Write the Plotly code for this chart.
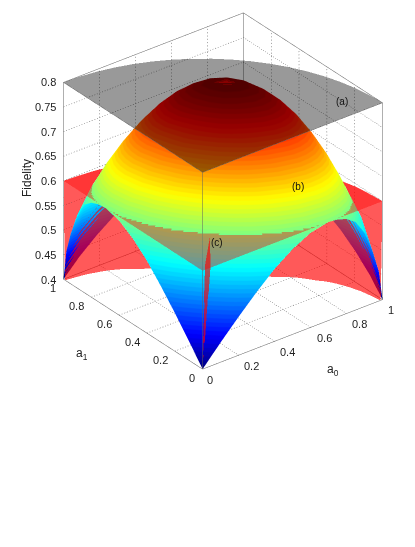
import numpy as np
import plotly.graph_objects as go

# Polar sample grid of the quarter-disc domain a0^2 + a1^2 <= 1
dome_radius = [0, .1, .2, .3, .4, .5, .6, .7, .75, .8, .85, .9, .95, .98, .99, 1]
dome_angle = list(range(0, 95, 5))

# Surface (b) read per angle column 0..45 (the surface is symmetric about 45 deg)
dome_t0 = [.4, .440, .478, .514, .547, .573, .592, .600, .598, .592, .579, .55, .50, .46, .43, .4]
dome_t5 = [.4, .443, .486, .527, .565, .596, .621, .634, .635, .630, .619, .598, .560, .518, .495, .435]
dome_t10 = [.4, .447, .494, .539, .581, .618, .647, .665, .668, .666, .657, .637, .599, .556, .532, .468]
dome_t15 = [.4, .450, .500, .549, .596, .637, .671, .694, .699, .699, .692, .673, .636, .592, .566, .5]
dome_t20 = [.4, .452, .506, .558, .609, .654, .692, .719, .727, .728, .723, .705, .668, .624, .598, .529]
dome_t25 = [.4, .454, .510, .566, .619, .669, .710, .741, .750, .753, .749, .733, .696, .651, .624, .553]
dome_t30 = [.4, .456, .514, .572, .628, .680, .725, .758, .769, .773, .770, .755, .718, .673, .646, .573]
dome_t35 = [.4, .457, .517, .576, .634, .688, .735, .770, .782, .788, .785, .771, .735, .689, .662, .588]
dome_t40 = [.4, .458, .518, .579, .638, .693, .741, .778, .790, .797, .795, .781, .745, .699, .672, .597]
dome_t45 = [.4, .458, .519, .580, .639, .695, .744, .781, .793, .800, .798, .784, .748, .702, .675, .600]

# Red outer sheet (c)
wall_radius = [.8, .85, .88, .91, .94, .96, .98, .99, 1]
wall_angle = [0, 10, 20, 30, 40, 45, 50, 60, 70, 80, 90]
wall_t0 = [.2, .2, .2, .2, .2, .2, .2, .4, .6]
wall_t10 = [.2, .2, .2, .2, .2, .32, .47, .53, .6]
wall_t20 = [.2, .2, .257, .343, .44, .5, .555, .58, .6]
wall_t30 = [.267, .35, .4, .45, .5, .533, .567, .583, .6]
wall_t40 = [.378, .433, .467, .5, .533, .556, .578, .589, .6]
wall_t45 = [.4, .45, .48, .51, .54, .56, .58, .59, .6]

# Red spike of sheet (c) near the origin
spike_radius = [0, .25]
spike_angle = [44, 45, 51]
spike_z = [[.4, .4, .4], [.54, .61, .54]]

# Constant levels
disc_radius = [0, 1]
disc_angle = [0, 5, 10, 15, 20, 25, 30, 35, 40, 45, 50, 55, 60, 65, 70, 75, 80, 85, 90]
level_a = [.8] * 19
level_red = [.6] * 19

a0_ticks = [0, .2, .4, .6, .8, 1]
a1_ticks = [0, .2, .4, .6, .8, 1]
a_labels = ['0', '0.2', '0.4', '0.6', '0.8', '1']
z_ticks = [.4, .45, .5, .55, .6, .65, .7, .75, .8]
z_labels = ['0.4', '0.45', '0.5', '0.55', '0.6', '0.65', '0.7', '0.75', '0.8']


def polar(radius, angle):
    r, t = np.meshgrid(radius, np.radians(angle), indexing='ij')
    return r * np.cos(t), r * np.sin(t)


def mirror(cols):
    return np.array(cols + cols[-2::-1]).T


def jet_scale(n=64):
    def f(v):
        return np.clip(1.5 - abs(4 * v - np.array([3, 2, 1])), 0, 1)
    stops = []
    for i in range(n):
        c = f((i + .5) / n)
        col = 'rgb(%d,%d,%d)' % tuple((c * 255).round())
        stops += [[i / n, col], [(i + 1) / n, col]]
    return stops


flat = dict(ambient=1, diffuse=0, specular=0, roughness=1, fresnel=0)
fig = go.Figure()

x, y = polar(dome_radius, dome_angle)
fig.add_surface(x=x, y=y, z=mirror([dome_t0, dome_t5, dome_t10, dome_t15, dome_t20, dome_t25,
                                    dome_t30, dome_t35, dome_t40, dome_t45]),
                colorscale=jet_scale(), cmin=.4, cmax=.8, showscale=False,
                lighting=flat, hoverinfo='skip')

x, y = polar(disc_radius, disc_angle)
fig.add_surface(x=x, y=y, z=[level_red, level_red], colorscale=[[0, '#ff0000'], [1, '#ff0000']],
                showscale=False, opacity=.4, lighting=flat, hoverinfo='skip')
fig.add_surface(x=x, y=y, z=[level_a, level_a], colorscale=[[0, '#000000'], [1, '#000000']],
                showscale=False, opacity=.4, lighting=flat, hoverinfo='skip')

x, y = polar(wall_radius, wall_angle)
fig.add_surface(x=x, y=y, z=mirror([wall_t0, wall_t10, wall_t20, wall_t30, wall_t40, wall_t45]),
                colorscale=[[0, '#ff0000'], [1, '#ff0000']],
                showscale=False, opacity=.65, lighting=flat, hoverinfo='skip')

x, y = polar(spike_radius, spike_angle)
fig.add_surface(x=x, y=y, z=spike_z, colorscale=[[0, '#ff0000'], [1, '#ff0000']],
                showscale=False, opacity=.65, lighting=flat, hoverinfo='skip')

# dotted grid, drawn as short dashes
gx, gy, gz = [], [], []


def dotted(p, q, n):
    for u in np.linspace(0, 1, n, endpoint=False):
        for w in (u, u + .35 / n):
            for store, a, b in ((gx, p[0], q[0]), (gy, p[1], q[1]), (gz, p[2], q[2])):
                store.append(a + (b - a) * w)
        gx.append(None)
        gy.append(None)
        gz.append(None)


for v in a0_ticks[1:-1]:
    dotted((v, 0, .4), (v, 1, .4), 70)
    dotted((v, 1, .4), (v, 1, .8), 60)
for v in a1_ticks[1:-1]:
    dotted((0, v, .4), (1, v, .4), 70)
    dotted((1, v, .4), (1, v, .8), 60)
for v in z_ticks[1:-1]:
    dotted((0, 1, v), (1, 1, v), 70)
    dotted((1, 1, v), (1, 0, v), 70)
fig.add_scatter3d(x=gx, y=gy, z=gz, mode='lines', line=dict(color='#555555', width=1),
                  hoverinfo='skip', showlegend=False)

# box edges
bx, by, bz = [], [], []
for zv in (.4, .8):
    bx += [0, 1, 1, 0, 0, None]
    by += [0, 0, 1, 1, 0, None]
    bz += [zv] * 5 + [None]
for cx, cy in ((0, 0), (1, 0), (1, 1), (0, 1)):
    bx += [cx, cx, None]
    by += [cy, cy, None]
    bz += [.4, .8, None]
fig.add_scatter3d(x=bx, y=by, z=bz, mode='lines', line=dict(color='#606060', width=1),
                  hoverinfo='skip', showlegend=False)

tick_font = dict(family='Liberation Sans, Arial', size=11, color='#222222')
notes = []
for v, t, sx in zip(a0_ticks, a_labels, [8, 13, 13, 14, 13, 9]):
    notes.append(dict(x=v, y=0, z=.4, text=t, showarrow=False, font=tick_font, xshift=sx, yshift=-10))
for v, t, sx in zip(a1_ticks, a_labels, [-10, -14, -14, -14, -14, -10]):
    notes.append(dict(x=0, y=v, z=.4, text=t, showarrow=False, font=tick_font, xshift=sx, yshift=-8))
for v, t in zip(z_ticks, z_labels):
    notes.append(dict(x=0, y=1, z=v, text=t, showarrow=False, font=tick_font, xanchor='right', xshift=-5))

axis = dict(showgrid=False, zeroline=False, showbackground=False, showspikes=False,
            showline=False, ticks='', showticklabels=False, title=dict(text=''))
el = np.radians(30)
th = np.radians(37.7)
d = 1.9
cube = 1.245
label_font = dict(size=10, family='Liberation Sans', color='#111111')
title_font = dict(size=12, family='Liberation Sans', color='#222222')


def note(px, py, text, font, **kw):
    # px, py are page pixels; the page body adds an 8 px margin
    return dict(x=(px - 8) / 415, y=1 - (py - 8) / 547, xref='paper', yref='paper', text=text, showarrow=False,
                font=font, xanchor='center', yanchor='middle', **kw)


fig.update_layout(
    width=415, height=547, margin=dict(l=0, r=0, t=0, b=0), paper_bgcolor='white',
    scene=dict(
        domain=dict(x=[.052, .982], y=[.33, 1]),
        aspectmode='manual', aspectratio=dict(x=cube, y=cube, z=cube),
        camera=dict(projection=dict(type='orthographic'), up=dict(x=0, y=0, z=1),
                    center=dict(x=0, y=0, z=0),
                    eye=dict(x=-d * np.sin(th) * np.cos(el), y=-d * np.cos(th) * np.cos(el), z=d * np.sin(el))),
        xaxis=dict(axis, range=[-.001, 1.001]),
        yaxis=dict(axis, range=[-.001, 1.001]),
        zaxis=dict(axis, range=[.3995, .8005]),
        annotations=notes,
    ),
    annotations=[
        note(342, 102, '(a)', label_font),
        note(298, 187, '(b)', label_font),
        note(217, 243, '(c)', label_font),
        note(27, 178, 'Fidelity', title_font, textangle=-90),
        note(82, 354, 'a<sub>1</sub>', title_font),
        note(333, 370, 'a<sub>0</sub>', title_font),
    ],
)
fig.write_html('out.html')
